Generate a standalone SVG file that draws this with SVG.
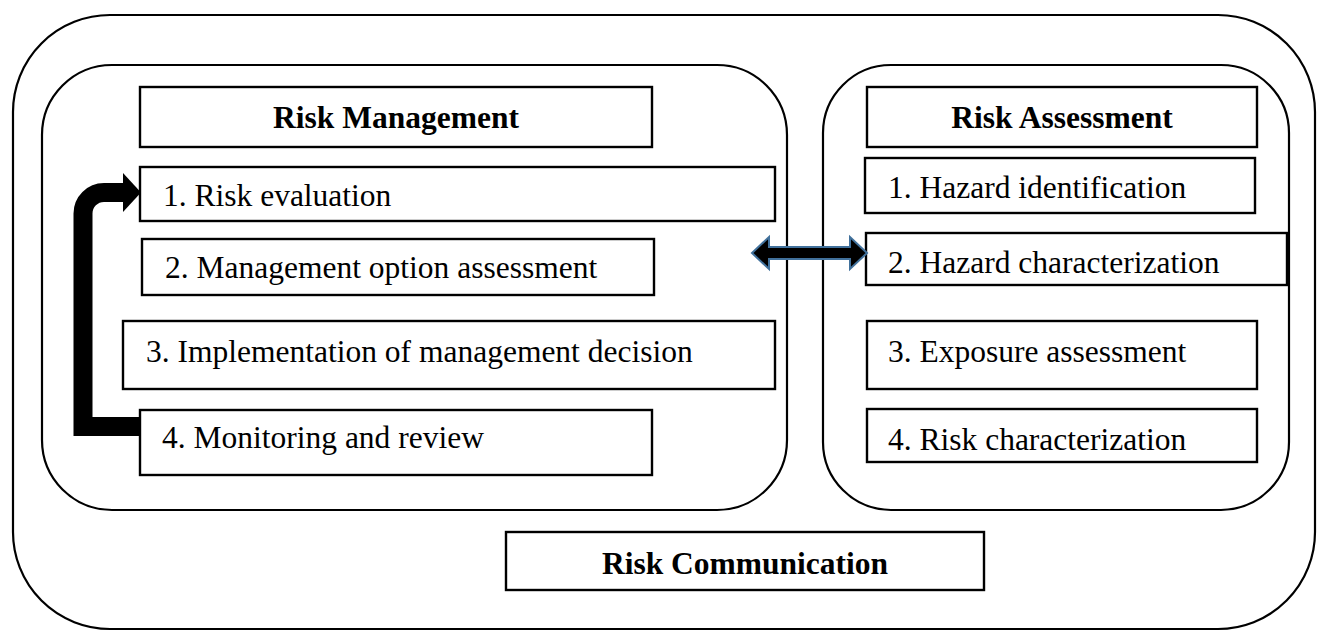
<svg xmlns="http://www.w3.org/2000/svg" width="1320" height="631" viewBox="0 0 1320 631">
  <style>
    .frame { fill: none; stroke: #000; stroke-width: 2.2; }
    .box { fill: #fff; stroke: #000; stroke-width: 2.4; }
    .item { font-family: "Liberation Serif", "Times New Roman", serif; font-size: 31.5px; fill: #000; }
    .head { font-family: "Liberation Serif", "Times New Roman", serif; font-size: 31.5px; font-weight: bold; fill: #000; text-anchor: middle; }
  </style>
  <rect width="1320" height="631" fill="#fff"/>

  <!-- outer communication frame -->
  <g id="communication-frame">
    <rect class="frame" x="13" y="15" width="1302" height="614" rx="97" ry="97"/>
  </g>

  <!-- risk management panel -->
  <g id="management-panel">
    <rect class="frame" x="42" y="65" width="745" height="445" rx="70" ry="70"/>
  </g>
  <g id="management-title">
    <rect class="box" x="140" y="87" width="512" height="60"/>
    <text class="head" x="396" y="128">Risk Management</text>
  </g>
  <g id="rm-step1">
    <rect class="box" x="140" y="167" width="635" height="54"/>
    <text class="item" x="163" y="206">1. Risk evaluation</text>
  </g>
  <g id="rm-step2">
    <rect class="box" x="142" y="239" width="512" height="56"/>
    <text class="item" x="165" y="278">2. Management option assessment</text>
  </g>
  <g id="rm-step3">
    <rect class="box" x="123" y="321" width="652" height="68"/>
    <text class="item" x="146" y="362">3. Implementation of management decision</text>
  </g>
  <g id="rm-step4">
    <rect class="box" x="140" y="410" width="512" height="65"/>
    <text class="item" x="162" y="448">4. Monitoring and review</text>
  </g>

  <!-- risk assessment panel -->
  <g id="assessment-panel">
    <rect class="frame" x="823" y="65" width="466" height="445" rx="68" ry="68"/>
  </g>
  <g id="assessment-title">
    <rect class="box" x="867" y="87" width="390" height="60"/>
    <text class="head" x="1062" y="128">Risk Assessment</text>
  </g>
  <g id="ra-step1">
    <rect class="box" x="865" y="158" width="390" height="55"/>
    <text class="item" x="888" y="198">1. Hazard identification</text>
  </g>
  <g id="ra-step2">
    <rect class="box" x="866" y="233" width="421" height="52"/>
    <text class="item" x="888" y="273">2. Hazard characterization</text>
  </g>
  <g id="ra-step3">
    <rect class="box" x="867" y="321" width="390" height="68"/>
    <text class="item" x="888" y="362">3. Exposure assessment</text>
  </g>
  <g id="ra-step4">
    <rect class="box" x="867" y="409" width="390" height="53"/>
    <text class="item" x="888" y="450">4. Risk characterization</text>
  </g>

  <!-- risk communication label -->
  <g id="communication-title">
    <rect class="box" x="506" y="532" width="478" height="58"/>
    <text class="head" x="745" y="574">Risk Communication</text>
  </g>

  <!-- connectors -->
  <g id="connectors">
    <!-- feedback loop from monitoring back to evaluation -->
    <path d="M140 426.5 H83 V213.5 A21 21 0 0 1 104 192.5 H124" fill="none" stroke="#000" stroke-width="19" stroke-linejoin="miter"/>
    <polygon points="123,173 141,192.5 123,212" fill="#000"/>
    <!-- two-way exchange between management and assessment -->
    <polygon points="752,253 769,237 769,247 850,247 850,237 867,253 850,269 850,259 769,259 769,269" fill="#000" stroke="#41719c" stroke-width="2" stroke-linejoin="miter"/>
  </g>
</svg>
